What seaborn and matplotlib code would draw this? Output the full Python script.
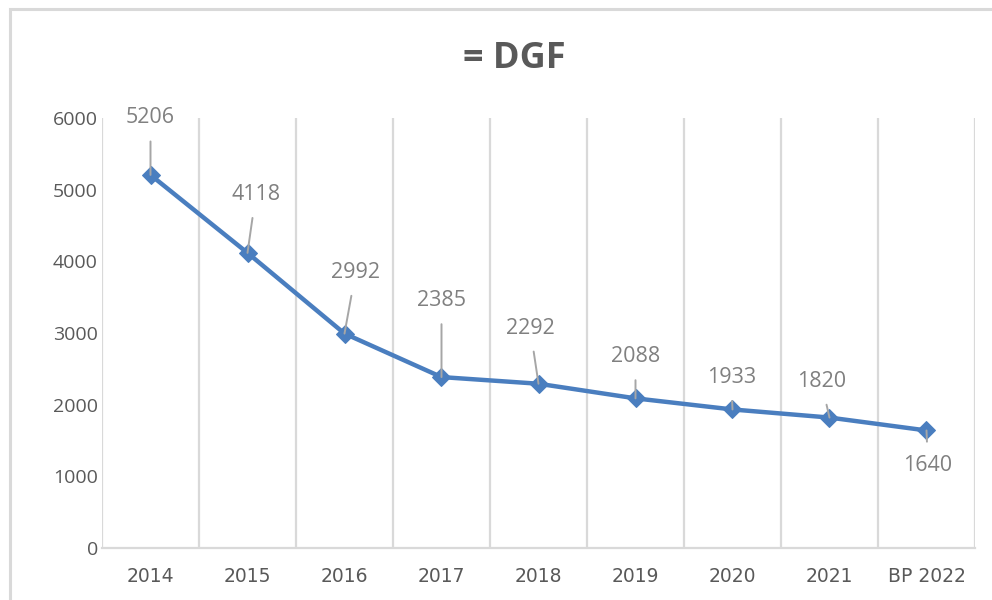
import numpy as np
import pandas as pd
import matplotlib
matplotlib.use("Agg")
import matplotlib.pyplot as plt
from matplotlib.patches import Rectangle
import seaborn as sns

years = ["2014", "2015", "2016", "2017", "2018", "2019", "2020", "2021", "BP 2022"]
dgf = [5206, 4118, 2992, 2385, 2292, 2088, 1933, 1820, 1640]
title = "= DGF"

# label offsets (points) for the data labels with leader lines
label_dx = [0, 6, 8, 0, -6, 0, -1, -6, 1]
label_dy = [41, 42, 44, 55, 40, 30, 23, 26, -25]

LINE_BLUE = "#4A7EBF"
TEXT_GREY = "#595959"
GRID_GREY = "#D9D9D9"

sns.set_style("white")
plt.rcParams["font.family"] = ["Open Sans", "DejaVu Sans"]

df = pd.DataFrame({"year": years, "value": dgf})
df["pos"] = np.arange(len(df))

fig = plt.figure(figsize=(9.92, 6.0), dpi=100)
ax = fig.add_axes([102 / 992, 52 / 600, 873 / 992, 430 / 600])

# outer chart frame
fig.patches.append(Rectangle((10 / 992, -0.05), 1.1, (600 - 9) / 600 + 0.05,
                             transform=fig.transFigure, fill=False,
                             edgecolor=GRID_GREY, linewidth=2.2, zorder=0))

sns.lineplot(data=df, x="pos", y="value", ax=ax, color=LINE_BLUE,
             linewidth=3.2, marker="D", markersize=9, markeredgecolor=LINE_BLUE,
             zorder=3)

for i, v in enumerate(dgf):
    ax.annotate(str(v), xy=(i, v), xytext=(label_dx[i], label_dy[i]),
                textcoords="offset points", ha="center", va="center",
                fontsize=15.5, color="#808080",
                arrowprops=dict(arrowstyle="-", color="#A6A6A6", lw=1.4,
                                shrinkA=7, shrinkB=0))

ax.set_xlim(-0.5, len(years) - 0.5)
ax.set_ylim(0, 6000)
ax.set_yticks(np.arange(0, 6001, 1000))
ax.set_xticks(np.arange(len(years)))
ax.set_xticklabels(years)
ax.set_xticks(np.arange(-0.5, len(years)), minor=True)
ax.grid(which="minor", axis="x", color=GRID_GREY, linewidth=1.6)
ax.grid(which="major", visible=False)
ax.tick_params(axis="both", which="both", length=0, colors=TEXT_GREY, labelsize=14)
ax.tick_params(axis="x", pad=14)
ax.tick_params(axis="y", pad=3)
for lab in ax.get_xticklabels():
    lab.set_fontfamily(["DejaVu Sans"])
    lab.set_fontsize(13.5)
ax.set_xlabel("")
ax.set_ylabel("")
for side in ["top", "right", "left"]:
    ax.spines[side].set_visible(False)
ax.spines["bottom"].set_color(GRID_GREY)
ax.spines["bottom"].set_linewidth(1.6)

fig.suptitle(title, x=514 / 992, y=1 - 59 / 600, va="center",
             fontsize=26, fontweight="bold", color=TEXT_GREY)

fig.savefig("out.png", dpi=100, facecolor="white")
